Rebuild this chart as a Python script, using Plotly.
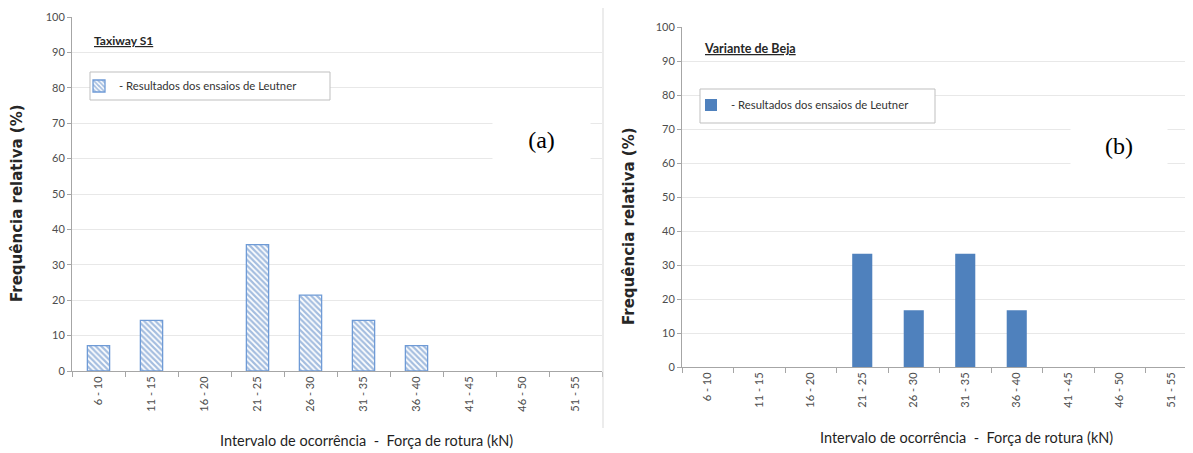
import plotly.graph_objects as go

categories = ["6 - 10", "11 - 15", "16 - 20", "21 - 25", "26 - 30",
              "31 - 35", "36 - 40", "41 - 45", "46 - 50", "51 - 55"]
freq_taxiway = [7.14, 14.29, 0, 35.71, 21.43, 14.29, 7.14, 0, 0, 0]
freq_beja = [0, 0, 0, 33.33, 16.67, 33.33, 16.67, 0, 0, 0]
y_ticks = [0, 10, 20, 30, 40, 50, 60, 70, 80, 90, 100]
legend_label = "- Resultados dos ensaios de Leutner"
x_title = "Intervalo de ocorrência  -  Força de rotura (kN)"
y_title = "Frequência relativa (%)"

W, H = 1193, 453
OFF = 8  # default page body margin in the written html
BLUE = "#4F81BD"

def px(x):
    return (x - OFF) / W

def py(y):
    return 1 - (y - OFF) / H

def hide_zero(vals):
    return [v if v else None for v in vals]

fig = go.Figure()
fig.add_trace(go.Bar(
    x=categories, y=hide_zero(freq_taxiway), name=legend_label, width=0.42,
    marker=dict(color="white",
                pattern=dict(shape="\\", fgcolor="#4A7CC0", bgcolor="white", size=4, solidity=0.55),
                line=dict(color="#6F9BD6", width=1.3)),
    xaxis="x", yaxis="y", legend="legend",
))
fig.add_trace(go.Bar(
    x=categories, y=hide_zero(freq_beja), name=legend_label, width=0.39,
    marker=dict(color=BLUE, line=dict(color=BLUE, width=0)),
    xaxis="x2", yaxis="y2", legend="legend2",
))

tickfont = dict(family="Lato", size=11, color="#4D4D4D")
common_x = dict(type="category", tickangle=-90, tickfont=tickfont, showline=True,
                linecolor="#A6A6A6", linewidth=1, ticks="outside", ticklen=5,
                tickcolor="#A6A6A6", tickson="boundaries", showgrid=False, zeroline=False,
                fixedrange=True)
common_y = dict(range=[0, 100], tickvals=y_ticks, tickfont=tickfont, showline=True,
                linecolor="#A6A6A6", linewidth=1, ticks="outside", ticklen=4,
                tickcolor="#A6A6A6", showgrid=True, gridcolor="#E8E8E8", gridwidth=1,
                zeroline=False)

x2_end_page = OFF + W
fig.update_layout(
    width=W, height=H, margin=dict(l=0, r=0, t=0, b=0, autoexpand=False),
    paper_bgcolor="white", plot_bgcolor="white",
    font=dict(family="Lato", color="#404040"),
    xaxis=dict(domain=[px(72), px(602)], range=[-0.5, 9.5], anchor="y", **common_x),
    yaxis=dict(domain=[py(371), py(17)], anchor="x", **common_y),
    xaxis2=dict(domain=[px(682), 1.0], range=[-0.5, (x2_end_page - 682) / 51.5 - 0.5],
                anchor="y2", **common_x),
    yaxis2=dict(domain=[py(367), py(27)], anchor="x2", **common_y),
    legend=dict(x=px(79), y=py(86), xanchor="left", yanchor="middle", orientation="h",
                borderwidth=0, bgcolor="rgba(0,0,0,0)",
                font=dict(family="Lato", size=11.3, color="#333333"), itemwidth=30),
    legend2=dict(x=px(691), y=py(105), xanchor="left", yanchor="middle", orientation="h",
                 borderwidth=0, bgcolor="rgba(0,0,0,0)",
                 font=dict(family="Lato", size=11.3, color="#333333"), itemwidth=30),
    showlegend=True,
)

def ann(x, y, text, **kw):
    d = dict(x=px(x), y=py(y), xref="paper", yref="paper", text=text, showarrow=False)
    d.update(kw)
    return d

annotations = [
    ann(92, 40, "<b><u>Taxiway S1</u></b>", xanchor="left", yanchor="middle",
        font=dict(family="Lato", size=12, color="#262626")),
    ann(702, 48, "<b><u>Variante de Beja</u></b>", xanchor="left", yanchor="middle",
        font=dict(family="Lato", size=12.5, color="#262626")),
    ann(541, 140, "(a)", xanchor="center", yanchor="middle", bgcolor="white", width=95, height=48,
        font=dict(family="Liberation Serif", size=24, color="black")),
    ann(1119, 146, "(b)", xanchor="center", yanchor="middle", bgcolor="white", width=94, height=50,
        font=dict(family="Liberation Serif", size=24, color="black")),
    ann(17, 203, "<b>" + y_title + "</b>", textangle=-90, xanchor="center", yanchor="middle",
        font=dict(family="DejaVu Sans", size=15, color="#262626")),
    ann(629, 226, "<b>" + y_title + "</b>", textangle=-90, xanchor="center", yanchor="middle",
        font=dict(family="DejaVu Sans", size=15, color="#262626")),
    ann(366, 440, x_title, xanchor="center", yanchor="middle",
        font=dict(family="Lato", size=14.5, color="#1F1F1F")),
    ann(966, 437, x_title, xanchor="center", yanchor="middle",
        font=dict(family="Lato", size=14.5, color="#1F1F1F")),
]
fig.update_layout(annotations=annotations)

# legend frames (decorative boxes behind the legends)
fig.add_shape(type="rect", xref="paper", yref="paper", x0=px(90), x1=px(330),
              y0=py(100), y1=py(72), fillcolor="white", layer="above",
              line=dict(color="#BFBFBF", width=1))
fig.add_shape(type="rect", xref="paper", yref="paper", x0=px(700), x1=px(935),
              y0=py(123), y1=py(89), fillcolor="white", layer="above",
              line=dict(color="#BFBFBF", width=1))
fig.add_shape(type="line", xref="paper", yref="paper", x0=px(603), x1=px(603),
              y0=py(0), y1=py(428), line=dict(color="#D9D9D9", width=1))

fig.write_html("out.html")
